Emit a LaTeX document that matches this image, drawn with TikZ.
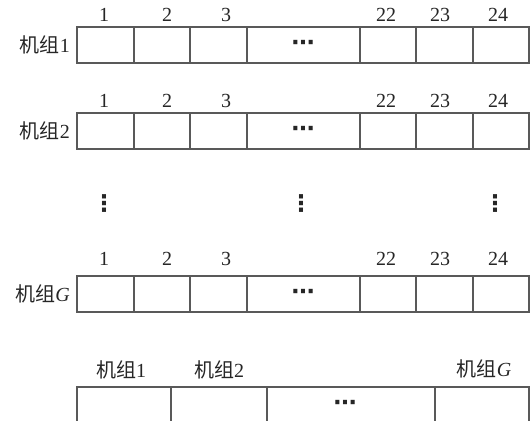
\documentclass[tikz,border=0pt]{standalone}
\usepackage{fontspec}
\setmainfont{Liberation Serif}
\newfontfamily\cjk{Noto Sans CJK SC}
\newfontfamily\sym{DejaVu Sans}
\begin{document}
\begin{tikzpicture}[x=1pt,y=-1pt,
  grid/.style={draw=black!65,line width=1.3pt},
  lbl/.style={font=\fontsize{20}{20}\selectfont,inner sep=0pt,text=black!85},
  dots/.style={font=\sym\bfseries\fontsize{23}{23}\selectfont,inner sep=0pt,text=black!85}]
\useasboundingbox (0,0) rectangle (531,421);
% rows of 24 periods
\foreach \r/\top/\nums/\name in {1/27/15/{\cjk 机组}1, 2/113/101/{\cjk 机组}2, 3/276/259/{\cjk 机组}\textit{G}}{
  \draw[grid] (77,\top) rectangle (529,\top+36);
  \foreach \xx in {134,190,247,360,416,473} \draw[grid] (\xx,\top) -- (\xx,\top+36);
  \node[lbl] (n1-\r) at (104,\nums) {1};
  \node[lbl] (n2-\r) at (167,\nums) {2};
  \node[lbl] (n3-\r) at (226,\nums) {3};
  \node[lbl] (n22-\r) at (386,\nums) {22};
  \node[lbl] (n23-\r) at (440,\nums) {23};
  \node[lbl] (n24-\r) at (498,\nums) {24};
  \node[dots] (e-\r) at (303,\top+18) {⋯};
  \node[lbl,anchor=east] (row-\r) at (70,\top+18) {\name};
}
% vertical dots
\node[dots] (v1) at (104,204) {⋮};
\node[dots] (v2) at (301,204) {⋮};
\node[dots] (v3) at (495,204) {⋮};
% bottom row
\draw[grid] (77,421) -- (77,387) -- (529,387) -- (529,421);
\foreach \xx in {171,267,435} \draw[grid] (\xx,387) -- (\xx,421);
\node[lbl] (b1) at (121,370) {{\cjk 机组}1};
\node[lbl] (b2) at (219,370) {{\cjk 机组}2};
\node[lbl] (bG) at (484,369) {{\cjk 机组}\textit{G}};
\node[dots] (be) at (345,405) {⋯};
\end{tikzpicture}
\end{document}
